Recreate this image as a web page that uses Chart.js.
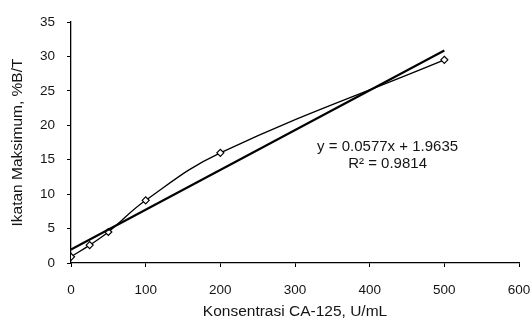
<!DOCTYPE html>
<html><head><meta charset="utf-8">
<script src="https://cdn.jsdelivr.net/npm/chart.js@4"></script>
<style>html,body{margin:0;padding:0;background:#fff}</style>
</head><body>
<canvas id="c" width="531" height="320" style="width:531px;height:320px;display:block"></canvas>
<script>
const concentrations = [0, 25, 50, 100, 200, 500];
const bindingPct = [0.9, 2.6, 4.5, 9.1, 16.0, 29.5];
const trendX = [0, 500];
const trendY = [1.96, 30.85];
const xTicks = [0, 100, 200, 300, 400, 500, 600];
const yTicks = [0, 5, 10, 15, 20, 25, 30, 35];
const equationLines = ["y = 0.0577x + 1.9635", "R\u00b2 = 0.9814"];
const xTitle = "Konsentrasi CA-125, U/mL";
const yTitle = "Ikatan Maksimum, %B/T";

const FONT = "'Liberation Sans', Arial, sans-serif";
const TXT = '#151515';

const eqPlugin = {
  id: 'eq',
  afterDatasetsDraw(chart) {
    const {ctx, scales} = chart;
    ctx.save();
    ctx.fillStyle = TXT;
    ctx.font = "15px " + FONT;
    ctx.textAlign = 'center';
    ctx.textBaseline = 'middle';
    const cx = scales.x.getPixelForValue(424);
    ctx.fillText(equationLines[0], cx, scales.y.getPixelForValue(16.9));
    ctx.fillText(equationLines[1], cx, scales.y.getPixelForValue(14.4));
    ctx.restore();
  }
};

new Chart(document.getElementById('c'), {
  type: 'scatter',
  data: {
    datasets: [
      {
        data: trendX.map((x, i) => ({x, y: trendY[i]})),
        showLine: true,
        borderColor: '#000',
        borderWidth: 2.2,
        pointRadius: 0,
        tension: 0
      },
      {
        data: concentrations.map((x, i) => ({x, y: bindingPct[i]})),
        showLine: true,
        borderColor: '#000',
        borderWidth: 1.3,
        tension: 0.4,
        pointStyle: 'rectRot',
        pointRadius: 3.5,
        pointBackgroundColor: '#fff',
        pointBorderColor: '#000',
        pointBorderWidth: 1.2
      }
    ]
  },
  options: {
    responsive: false,
    devicePixelRatio: 1,
    animation: false,
    layout: {padding: {left: 5, top: 22, right: 0, bottom: 0}},
    plugins: {legend: {display: false}, tooltip: {enabled: false}},
    scales: {
      x: {
        type: 'linear', min: 0, max: 600,
        afterBuildTicks: s => { s.ticks = xTicks.map(v => ({value: v})); },
        afterFit: s => { s.height = 57; s.paddingRight = 12; s.paddingLeft = 0; },
        grid: {drawOnChartArea: false, tickLength: 4, tickColor: '#000'},
        border: {color: '#000', width: 1.3},
        ticks: {color: TXT, font: {family: FONT, size: 13.5}, padding: 15, maxRotation: 0},
        title: {display: true, text: xTitle, color: TXT, font: {family: FONT, size: 15.5, lineHeight: 1.1}, padding: {top: 0, bottom: 0}}
      },
      y: {
        type: 'linear', min: 0, max: 35,
        afterBuildTicks: s => { s.ticks = yTicks.map(v => ({value: v})); },
        afterFit: s => { s.width = 66; },
        grid: {drawOnChartArea: false, tickLength: 4, tickColor: '#000'},
        border: {color: '#000', width: 1.3},
        ticks: {color: TXT, font: {family: FONT, size: 13.5}, padding: 12},
        title: {display: true, text: yTitle, color: TXT, font: {family: FONT, size: 15.5, lineHeight: 1.1}, padding: {top: 4.5, bottom: 0}}
      }
    }
  },
  plugins: [eqPlugin]
});
</script>
</body></html>
